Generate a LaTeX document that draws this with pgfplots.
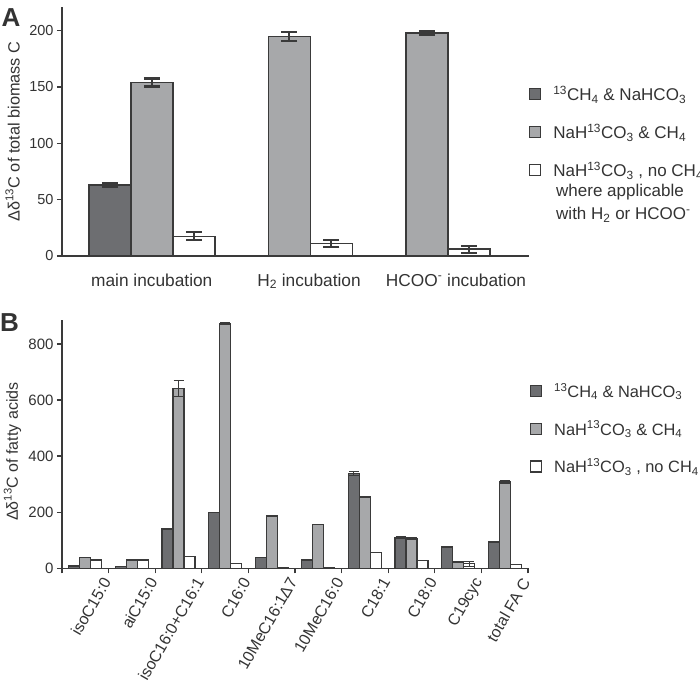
\documentclass[border=0pt]{standalone}
\usepackage{fontspec}
\setmainfont{Liberation Sans}
\usepackage{pgfplots}
\pgfplotsset{compat=1.18}
\definecolor{darkbar}{HTML}{6D6E71}
\definecolor{lightbar}{HTML}{A7A8AA}
\definecolor{edge}{HTML}{3A3A3A}
\definecolor{txt}{HTML}{333333}
\newcommand{\fsz}[1]{\fontsize{#1}{#1}\selectfont}
\pgfplotsset{
  mybase/.style={
    scale only axis,
    axis x line*=bottom, axis y line*=left,
    axis line style={edge, line width=1.5bp, -},
    tick align=outside,
    major tick length=5bp,
    tick style={edge, line width=1.3bp},
    ymin=0,
    /pgf/number format/assume math mode=true,
    ticklabel style={text=txt},
    label style={text=txt},
    legend cell align=left,
    legend style={draw=none, fill=none, inner sep=0pt, outer sep=0pt, anchor=north west,
      column sep=12bp, nodes={inner sep=0pt, text=txt}},
  },
  sqlegend/.style={
    legend image code/.code={\draw[##1, line width=1.3bp] (0bp,-5.5bp) rectangle (11bp,5.5bp);},
  },
}
\begin{document}
\begin{tikzpicture}
\useasboundingbox (0,0) rectangle (700bp,-684bp);
% ---------------- Panel A ----------------
\begin{axis}[mybase,
  at={(62bp,-256bp)}, anchor=south west,
  width=467bp, height=249bp,
  xmin=-0.653, xmax=2.743, ymax=221,
  ytick={0,50,100,150,200},
  yticklabel style={font=\fsz{14.5bp}},
  xtick=\empty,
  extra x ticks={0,1.143,2.212},
  extra x tick labels={main incubation, H\textsubscript{2} incubation, HCOO\textsuperscript{-} incubation},
  extra x tick style={major tick length=0pt, tick label style={font=\fsz{17.3bp}, yshift=-14bp}},
  ylabel={Δδ\textsuperscript{13}C of total biomass C},
  ylabel style={font=\fsz{16.3bp}, at={(axis description cs:-0.106,0.5)}, anchor=center},
  ybar, bar width=0.3055, sqlegend,
  legend style={at={(1.0,0.6827)}, row sep=22bp, font=\fsz{17bp}},
]
\addplot[fill=darkbar, draw=edge, line width=1.5bp, bar shift=-0.3055,
  error bars/.cd, y dir=both, y explicit,
  error bar style={line width=2.2bp, draw=edge},
  error mark options={rotate=90, mark size=8bp, line width=2.2bp, draw=edge}]
  coordinates {(0,63) +- (0,2)};
\addlegendentry{\textsuperscript{13}CH\textsubscript{4} \& NaHCO\textsubscript{3}}
\addplot[fill=lightbar, draw=edge, line width=1.5bp, bar shift=0,
  error bars/.cd, y dir=both, y explicit,
  error bar style={line width=2.2bp, draw=edge},
  error mark options={rotate=90, mark size=8bp, line width=2.2bp, draw=edge}]
  coordinates {(0,154) +- (0,3.5) (1,195) +- (0,4) (2,198) +- (0,1.5)};
\addlegendentry{NaH\textsuperscript{13}CO\textsubscript{3} \& CH\textsubscript{4}}
\addplot[fill=white, draw=edge, line width=1.5bp, bar shift=0.3055,
  error bars/.cd, y dir=both, y explicit,
  error bar style={line width=2.2bp, draw=edge},
  error mark options={rotate=90, mark size=8bp, line width=2.2bp, draw=edge}]
  coordinates {(0,17.5) +- (0,3.5) (1,11.3) +- (0,3) (2,6) +- (0,3)};
\addlegendentry{NaH\textsuperscript{13}CO\textsubscript{3} , no CH\textsubscript{4}}
\end{axis}
\node[anchor=west, text=txt, font=\fsz{17bp}, inner sep=0pt] at (556bp,-192bp) {where applicable};
\node[anchor=west, text=txt, font=\fsz{17bp}, inner sep=0pt] at (556bp,-215bp) {with H\textsubscript{2} or HCOO\textsuperscript{-}};
\node[text=txt, font=\bfseries\fsz{26bp}, inner sep=0pt] at (11bp,-18bp) {A};
% ---------------- Panel B ----------------
\begin{axis}[mybase,
  at={(62bp,-568.3bp)}, anchor=south west,
  width=466bp, height=248.3bp,
  xmin=-0.5, xmax=9.5, ymax=885,
  ytick={0,200,400,600,800},
  yticklabel style={font=\fsz{15bp}},
  xtick={-0.5,0.5,...,9.5}, xticklabels={},
  extra x ticks={0,1,2,3,4,5,6,7,8,9},
  extra x tick labels={isoC15:0, aiC15:0, isoC16:0+C16:1, C16:0, 10MeC16:1Δ7, 10MeC16:0, C18:1, C18:0, C19cyc, total FA C},
  extra x tick style={major tick length=0pt, tick label style={font=\fsz{16bp}, xshift=23bp, yshift=-8bp, rotate=60, anchor=east}},
  ylabel={Δδ\textsuperscript{13}C of fatty acids},
  ylabel style={font=\fsz{16bp}, at={(axis description cs:-0.106,0.47)}, anchor=center},
  ybar, bar width=0.236, sqlegend,
  legend style={at={(1.004,0.746)}, row sep=22bp, font=\fsz{16.4bp}},
]
\addplot[fill=darkbar, draw=edge, line width=1.3bp, bar shift=-0.236,
  error bars/.cd, y dir=both, y explicit,
  error bar style={line width=1bp, draw=edge},
  error mark options={rotate=90, mark size=5bp, line width=1bp, draw=edge}]
  coordinates {(0,8) +- (0,0) (1,6) +- (0,0) (2,140) +- (0,0) (3,198) +- (0,0) (4,38) +- (0,0)
               (5,30) +- (0,0) (6,338) +- (0,6) (7,109) +- (0,3) (8,76) +- (0,0) (9,94) +- (0,0)};
\addlegendentry{\textsuperscript{13}CH\textsubscript{4} \& NaHCO\textsubscript{3}}
\addplot[fill=lightbar, draw=edge, line width=1.3bp, bar shift=0,
  error bars/.cd, y dir=both, y explicit,
  error bar style={line width=1bp, draw=edge},
  error mark options={rotate=90, mark size=5bp, line width=1bp, draw=edge}]
  coordinates {(0,38) +- (0,0) (1,30) +- (0,0) (2,641) +- (0,29) (3,873) +- (0,4) (4,187) +- (0,3)
               (5,155) +- (0,0) (6,254) +- (0,0) (7,106) +- (0,3) (8,23) +- (0,0) (9,308) +- (0,4)};
\addlegendentry{NaH\textsuperscript{13}CO\textsubscript{3} \& CH\textsubscript{4}}
\addplot[fill=white, draw=edge, line width=1.3bp, bar shift=0.236,
  error bars/.cd, y dir=both, y explicit,
  error bar style={line width=1bp, draw=edge},
  error mark options={rotate=90, mark size=5bp, line width=1bp, draw=edge}]
  coordinates {(0,30) +- (0,0) (1,30) +- (0,0) (2,42) +- (0,0) (3,18) +- (0,0) (4,1) +- (0,0)
               (5,1) +- (0,0) (6,57) +- (0,0) (7,27) +- (0,0) (8,17) +- (0,9) (9,13) +- (0,0)};
\addlegendentry{NaH\textsuperscript{13}CO\textsubscript{3} , no CH\textsubscript{4}}
\end{axis}
\node[text=txt, font=\bfseries\fsz{26bp}, inner sep=0pt] at (9.5bp,-323bp) {B};
\end{tikzpicture}
\end{document}
